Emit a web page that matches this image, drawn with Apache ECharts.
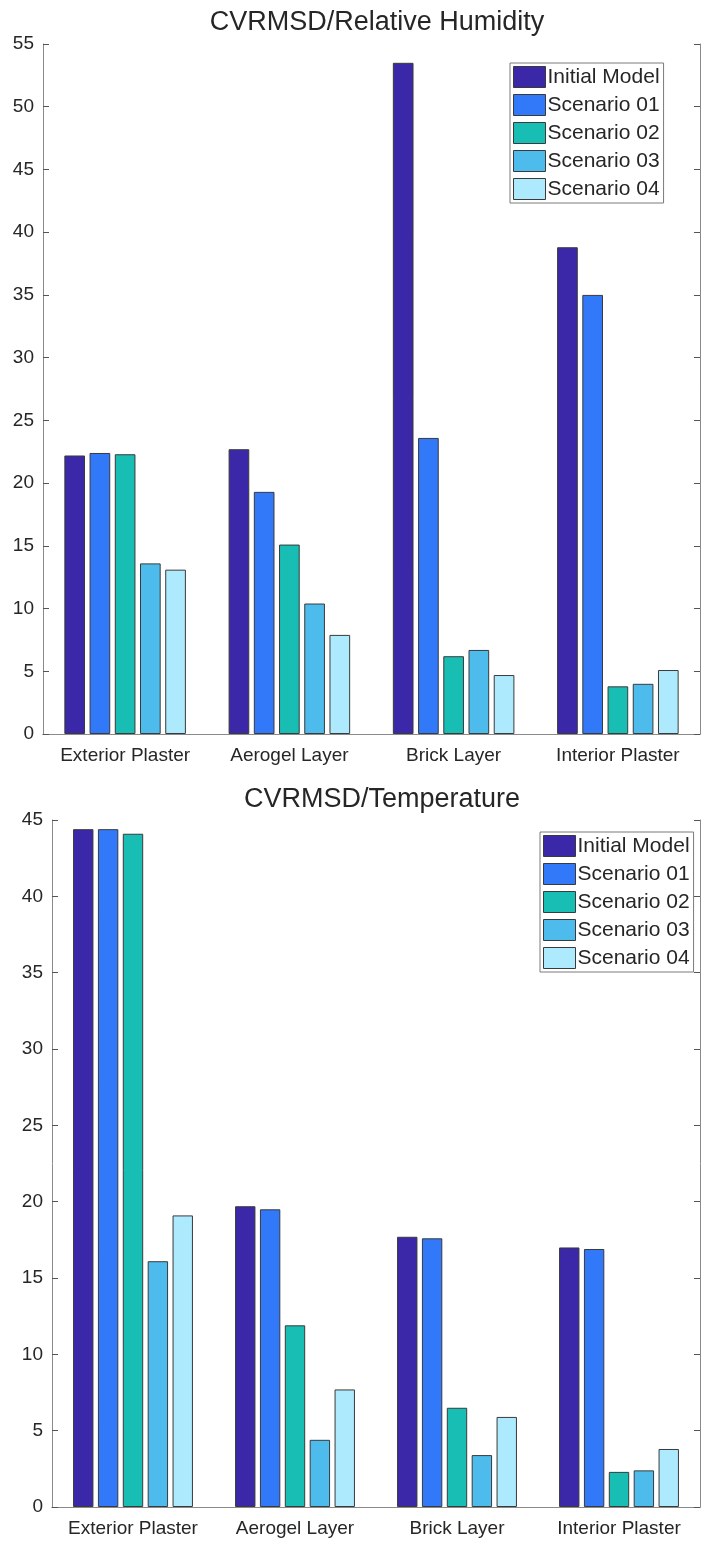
<!DOCTYPE html>
<html>
<head>
<meta charset="utf-8">
<script src="https://cdn.jsdelivr.net/npm/echarts@6/dist/echarts.min.js"></script>
<style>
  html, body { margin: 0; padding: 0; background: #fff; }
  #chart { width: 711px; height: 1543px; }
</style>
</head>
<body>
<div id="chart"></div>
<script>
// Layers of the wall assembly
const categories = ['Exterior Plaster', 'Aerogel Layer', 'Brick Layer', 'Interior Plaster'];
const seriesNames = ['Initial Model', 'Scenario 01', 'Scenario 02', 'Scenario 03', 'Scenario 04'];

// CVRMSD of relative humidity per layer
const rhInitial = [22.2, 22.7, 53.5, 38.8];
const rhScenario01 = [22.4, 19.3, 23.6, 35.0];
const rhScenario02 = [22.3, 15.1, 6.2, 3.8];
const rhScenario03 = [13.6, 10.4, 6.7, 4.0];
const rhScenario04 = [13.1, 7.9, 4.7, 5.1];

// CVRMSD of temperature per layer
const tInitial = [44.4, 19.7, 17.7, 17.0];
const tScenario01 = [44.4, 19.5, 17.6, 16.9];
const tScenario02 = [44.1, 11.9, 6.5, 2.3];
const tScenario03 = [16.1, 4.4, 3.4, 2.4];
const tScenario04 = [19.1, 7.7, 5.9, 3.8];

// Axis ranges
const rhAxisMax = 55, tAxisMax = 45, tickStep = 5;

const colors = ['#3b28a9', '#3279fa', '#18bdb4', '#4dbcec', '#aeeafd'];
const FONT = 'Liberation Sans, Arial, sans-serif';
const textColor = '#262626';
const lineColor = '#8a8a8a';

const rhSets = [rhInitial, rhScenario01, rhScenario02, rhScenario03, rhScenario04];
const tSets = [tInitial, tScenario01, tScenario02, tScenario03, tScenario04];

function xAxes(gridIndex) {
  const common = {
    type: 'category', gridIndex, data: categories,
    axisLine: { lineStyle: { color: lineColor, width: 1 } },
    axisTick: { inside: true, alignWithLabel: true, length: 6, lineStyle: { color: '#555' } },
    splitLine: { show: false }, z: 5
  };
  return [
    Object.assign({}, common, {
      position: 'bottom',
      axisLabel: { interval: 0, color: textColor, fontFamily: FONT, fontSize: 19, margin: 12 }
    }),
    Object.assign({}, common, { position: 'top', axisLabel: { show: false } })
  ];
}

function yAxes(gridIndex, max) {
  const common = {
    type: 'value', gridIndex, min: 0, max, interval: tickStep,
    axisLine: { show: true, lineStyle: { color: lineColor, width: 1 } },
    axisTick: { show: true, inside: true, length: 6, lineStyle: { color: '#555' } },
    splitLine: { show: false }, z: 5
  };
  return [
    Object.assign({}, common, {
      position: 'left',
      axisLabel: { color: textColor, fontFamily: FONT, fontSize: 19, margin: 9 }
    }),
    Object.assign({}, common, { position: 'right', axisLabel: { show: false } })
  ];
}

function barSeries(sets, xIdx, yIdx) {
  return sets.map((vals, i) => ({
    name: seriesNames[i], type: 'bar', xAxisIndex: xIdx, yAxisIndex: yIdx,
    data: vals, barCategoryGap: '26%', barGap: '22%',
    itemStyle: { color: colors[i], borderColor: '#3a3a3a', borderWidth: 1 }
  }));
}

function legend(left, top) {
  return {
    data: seriesNames, orient: 'vertical', left, top,
    itemWidth: 32, itemHeight: 21, itemGap: 6,
    icon: 'rect',
    padding: [3, 4, 3, 3],
    borderColor: '#7a7a7a', borderWidth: 1, backgroundColor: '#fff',
    textStyle: { color: textColor, fontFamily: FONT, fontSize: 21, padding: [0, 0, 0, -3] },
    itemStyle: { borderColor: '#3a3a3a', borderWidth: 1 },
    z: 10
  };
}

const chart = echarts.init(document.getElementById('chart'), null, { renderer: 'canvas' });
chart.setOption({
  backgroundColor: '#fff',
  animation: false,
  color: colors,
  title: [
    { text: 'CVRMSD/Relative Humidity', left: 372, top: 4, textAlign: 'center',
      textStyle: { color: textColor, fontFamily: FONT, fontSize: 27, fontWeight: 'normal' } },
    { text: 'CVRMSD/Temperature', left: 377, top: 781, textAlign: 'center',
      textStyle: { color: textColor, fontFamily: FONT, fontSize: 27, fontWeight: 'normal' } }
  ],
  legend: [legend(510, 63), legend(540, 832)],
  grid: [
    { left: 43, right: 11, top: 44, height: 690 },
    { left: 52, right: 11, top: 820, height: 687 }
  ],
  xAxis: [...xAxes(0), ...xAxes(1)],
  yAxis: [...yAxes(0, rhAxisMax), ...yAxes(1, tAxisMax)],
  series: [...barSeries(rhSets, 0, 0), ...barSeries(tSets, 2, 2)]
});
</script>
</body>
</html>
